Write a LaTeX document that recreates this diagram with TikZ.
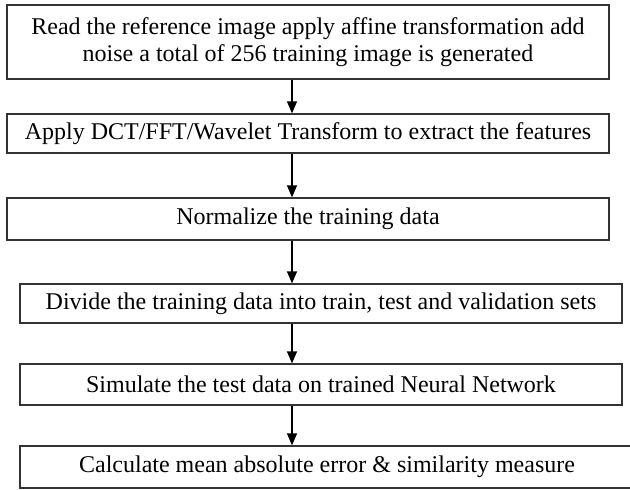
\documentclass[tikz,border=0pt]{standalone}
\usepackage{fontspec}
\setmainfont{Liberation Serif}
\usetikzlibrary{arrows.meta}

\begin{document}
\begin{tikzpicture}[x=1pt, y=-1pt,
    stage/.style = {draw=black!80, line width=1.3pt, align=center, inner sep=0pt,
                    font=\fontsize{24}{27}\selectfont},
    flow/.style  = {-{Triangle[width=10pt,length=12pt]}, line width=1.3pt}]
     \useasboundingbox (0,0) rectangle (630,490);
     % the six steps
     \node[stage, minimum width=602pt, minimum height=74pt] (read) at (308,42)
        {Read the reference image apply affine transformation add\\
         noise a total of 256 training image is generated};
     \node[stage, minimum width=602pt, minimum height=39pt] (transform) at (308,133.5)
        {Apply DCT/FFT/Wavelet Transform to extract the features};
     \node[stage, minimum width=602pt, minimum height=42pt] (normalize) at (308,219)
        {Normalize the training data};
     \node[stage, minimum width=602pt, minimum height=39pt] (divide) at (321,303.5)
        {Divide the training data into train, test and validation sets};
     \node[stage, minimum width=602pt, minimum height=41pt] (simulate) at (321,384.5)
        {Simulate the test data on trained Neural Network};
     \node[stage, minimum width=614pt, minimum height=42pt] (error) at (327,467)
        {Calculate mean absolute error \& similarity measure};
     % arrows between them
     \coordinate (axis) at (292,0);
     \foreach \a/\b in {read/transform, transform/normalize, normalize/divide,
                        divide/simulate, simulate/error}
       \draw[flow] (\a.south -| axis) -- (\b.north -| axis);
\end{tikzpicture}
\end{document}
